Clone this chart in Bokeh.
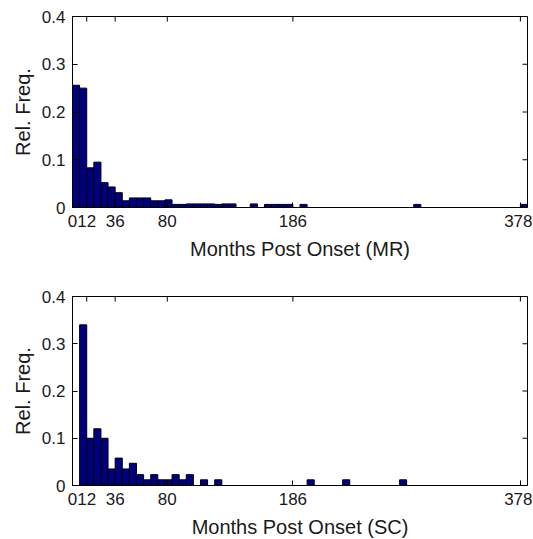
from bokeh.plotting import figure
from bokeh.models import FixedTicker, Range1d
from bokeh.layouts import column
from bokeh.embed import file_html
from bokeh.resources import INLINE

# ---- data (6-month bins, bin start month) ----
mr_bin_start = [0, 6, 12, 18, 24, 30, 36, 42, 48, 54, 60, 66, 72, 78, 84, 90,
                96, 102, 108, 114, 120, 126, 132, 150, 162, 168, 174, 180,
                192, 288, 378]
mr_freq = [0.256, 0.250, 0.083, 0.095, 0.052, 0.043, 0.031, 0.014, 0.020, 0.020,
           0.020, 0.014, 0.014, 0.016, 0.0065, 0.0065, 0.0075, 0.0075, 0.0075,
           0.0075, 0.0065, 0.0075, 0.0075, 0.0075, 0.0065, 0.0065, 0.0065,
           0.0065, 0.0065, 0.0065, 0.0065]

sc_bin_start = [6, 12, 18, 24, 30, 36, 42, 48, 54, 60, 66, 72, 78, 84, 90, 96,
                108, 120, 198, 228, 276]
sc_freq = [0.34, 0.10, 0.12, 0.10, 0.035, 0.058, 0.035, 0.047, 0.023, 0.012,
           0.023, 0.012, 0.012, 0.023, 0.012, 0.023, 0.012, 0.012, 0.012,
           0.012, 0.012]

bin_width = 6
x_ticks = [0, 12, 36, 80, 186, 378]
y_ticks = [0, 0.1, 0.2, 0.3, 0.4]
y_tick_labels = {0: "0", 0.1: "0.1", 0.2: "0.2", 0.3: "0.3", 0.4: "0.4"}
x_max = 384
y_max = 0.4

FONT = "Liberation Sans"
BAR_COLOR = "#00007F"
FRAME_W = 455
TICK_PX = 5


def make_panel(starts, freqs, xlabel, top_border, frame_h, bottom_border):
    p = figure(frame_width=FRAME_W, frame_height=frame_h,
               x_range=Range1d(0, x_max), y_range=Range1d(0, y_max),
               output_backend="svg", toolbar_location=None,
               min_border_left=72, min_border_right=5,
               min_border_top=top_border, min_border_bottom=bottom_border,
               background_fill_color="white", border_fill_color="white")
    centers = [s + bin_width / 2 for s in starts]
    p.vbar(x=centers, top=freqs, width=bin_width, bottom=0,
           fill_color=BAR_COLOR, line_color="black", line_width=1)
    p.grid.visible = False
    p.outline_line_color = "black"
    p.outline_line_width = 1

    xa = p.xaxis[0]
    xa.ticker = FixedTicker(ticks=x_ticks)
    xa.axis_label = xlabel
    ya = p.yaxis[0]
    ya.ticker = FixedTicker(ticks=y_ticks)
    ya.major_label_overrides = y_tick_labels
    ya.axis_label = "Rel. Freq."
    for ax in (xa, ya):
        ax.major_tick_in = TICK_PX
        ax.major_tick_out = 0
        ax.minor_tick_line_color = None
        ax.axis_line_color = "black"
        ax.major_tick_line_color = "black"
        ax.major_label_text_font = FONT
        ax.major_label_text_font_size = "17px"
        ax.major_label_text_color = "#1a1a1a"
        ax.axis_label_text_font = FONT
        ax.axis_label_text_font_size = "20px"
        ax.axis_label_text_font_style = "normal"
        ax.axis_label_text_color = "#1a1a1a"
    xa.major_label_standoff = 7
    xa.axis_label_standoff = 8
    ya.major_label_standoff = 7
    ya.axis_label_standoff = 5

    # mirrored ticks on top and right edges of the box
    dy = TICK_PX * y_max / frame_h
    dx = TICK_PX * x_max / FRAME_W
    p.segment(x0=x_ticks, x1=x_ticks, y0=[y_max] * len(x_ticks),
              y1=[y_max - dy] * len(x_ticks), line_color="black", line_width=1)
    p.segment(x0=[x_max] * len(y_ticks), x1=[x_max - dx] * len(y_ticks),
              y0=y_ticks, y1=y_ticks, line_color="black", line_width=1)
    return p


p1 = make_panel(mr_bin_start, mr_freq, "Months Post Onset (MR)", 16, 191, 70)
p2 = make_panel(sc_bin_start, sc_freq, "Months Post Onset (SC)", 19, 189, 48)

layout = column(p1, p2, spacing=0)
open("out.html", "w").write(file_html(layout, INLINE))
